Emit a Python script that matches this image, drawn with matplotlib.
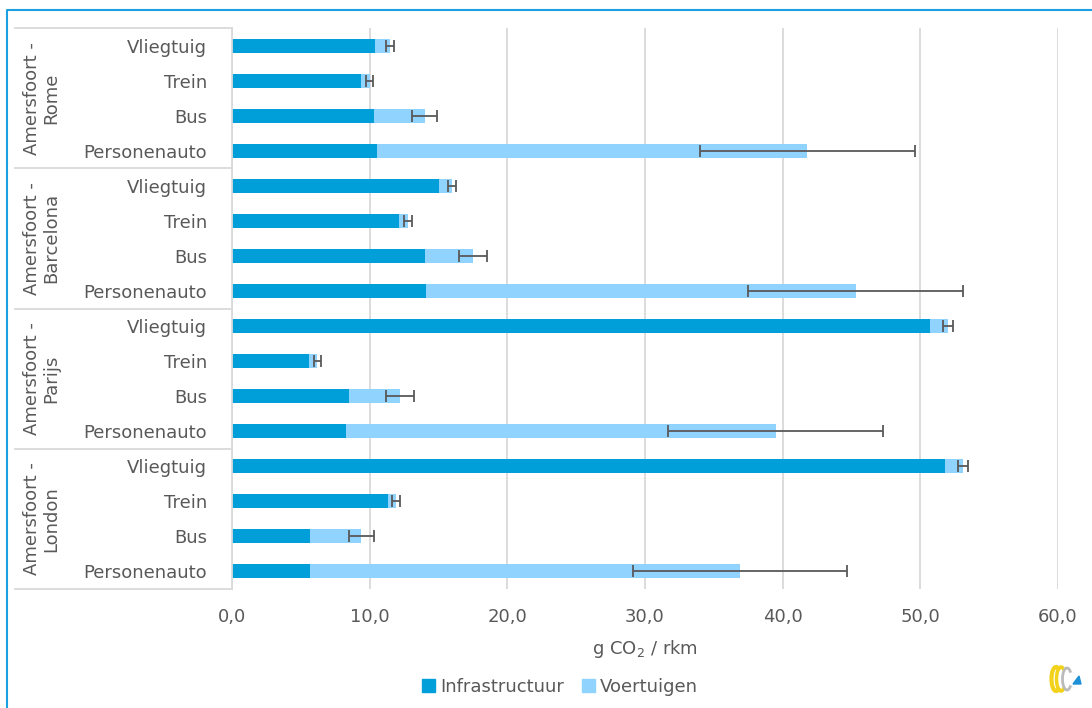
import matplotlib
matplotlib.use('Agg')
import matplotlib.pyplot as plt
from matplotlib.lines import Line2D
from matplotlib.patches import Patch, Arc, Polygon
from matplotlib.transforms import blended_transform_factory
from matplotlib.ticker import FuncFormatter

plt.rcParams['font.family'] = ['DejaVu Sans']

# routes (top to bottom) and modes within each route
routes = ['Amersfoort -\nRome', 'Amersfoort -\nBarcelona', 'Amersfoort -\nParijs', 'Amersfoort -\nLondon']
modes = ['Vliegtuig', 'Trein', 'Bus', 'Personenauto']

# g CO2 / rkm, per route, in mode order
infrastructuur = [
    [10.4, 9.4, 10.3, 10.5],
    [15.0, 12.1, 14.0, 14.1],
    [50.7, 5.6, 8.5, 8.3],
    [51.8, 11.3, 5.7, 5.7],
]
voertuigen = [
    [1.1, 0.6, 3.7, 31.3],
    [1.0, 0.7, 3.5, 31.2],
    [1.3, 0.6, 3.7, 31.2],
    [1.3, 0.6, 3.7, 31.2],
]
fout = [
    [0.3, 0.25, 0.9, 7.8],
    [0.3, 0.27, 1.0, 7.8],
    [0.35, 0.25, 1.0, 7.8],
    [0.37, 0.27, 0.92, 7.8],
]

C_INFRA = '#009FDA'
C_VOERT = '#8FD3FE'
C_TEXT = '#595959'
C_GRID = '#D9D9D9'

W, H = 1092, 708
fig = plt.figure(figsize=(W / 100, H / 100), dpi=100)
ax = fig.add_axes([232 / W, 1 - 589 / H, (1058 - 232) / W, (589 - 28) / H])

labels, infra, voert, err = [], [], [], []
for r in range(len(routes)):
    for m in range(len(modes)):
        labels.append(modes[m])
        infra.append(infrastructuur[r][m])
        voert.append(voertuigen[r][m])
        err.append(fout[r][m])
ypos = list(range(len(labels)))
totals = [a + b for a, b in zip(infra, voert)]

ax.barh(ypos, infra, height=0.4, color=C_INFRA, label='Infrastructuur', zorder=2)
ax.barh(ypos, voert, left=infra, height=0.4, color=C_VOERT, label='Voertuigen', zorder=2)
ax.errorbar(totals, ypos, xerr=err, fmt='none', ecolor=C_TEXT, elinewidth=1.3,
            capsize=4, capthick=1.3, zorder=3)

ax.set_xlim(0, 60)
ax.set_ylim(len(labels) - 0.5, -0.5)
ax.set_xticks(range(0, 61, 10))
ax.xaxis.set_major_formatter(FuncFormatter(lambda v, p: f'{v:.1f}'.replace('.', ',')))
ax.set_yticks(ypos)
ax.set_yticklabels(labels)
ax.tick_params(axis='both', length=0, colors=C_TEXT, labelsize=13)
ax.tick_params(axis='y', pad=18)
ax.tick_params(axis='x', pad=14)
ax.grid(axis='x', color=C_GRID, linewidth=1.3, zorder=0)
ax.set_axisbelow(True)
for s in ['top', 'right', 'bottom']:
    ax.spines[s].set_visible(False)
ax.spines['left'].set_color(C_GRID)
ax.spines['left'].set_linewidth(1.3)

ax.set_xlabel(r'g CO$_\mathregular{2}$ / rkm', fontsize=13, color=C_TEXT, labelpad=8)

# route group labels and separators
tr = blended_transform_factory(fig.transFigure, ax.transData)
for r, name in enumerate(routes):
    top = r * len(modes) - 0.5
    ax.plot([15 / W, 232 / W], [top, top], transform=tr, color=C_GRID, lw=1.3, clip_on=False)
    ax.text(42 / W, top + len(modes) / 2, name, transform=tr, rotation=90, ha='center',
            va='center', fontsize=13, color=C_TEXT, linespacing=1.1)
bottom = len(labels) - 0.5
ax.plot([15 / W, 232 / W], [bottom, bottom], transform=tr, color=C_GRID, lw=1.3, clip_on=False)

handles = [Patch(color=C_INFRA, label='Infrastructuur'), Patch(color=C_VOERT, label='Voertuigen')]
fig.legend(handles=handles, loc='center', bbox_to_anchor=(560 / W, 1 - 687 / H), ncol=2,
           frameon=False, fontsize=13, labelcolor=C_TEXT, handlelength=0.7, handleheight=0.7,
           handletextpad=0.3, columnspacing=1.0)

# figure border (only top and left are visible)
fig.add_artist(Line2D([7 / W, 7 / W, 1], [0, 1 - 10 / H, 1 - 10 / H], transform=fig.transFigure,
                      color='#1BA1E2', linewidth=1.5))

# small logo
lax = fig.add_axes([1046 / W, 1 - 694 / H, 38 / W, 30 / H])
lax.set_xlim(0, 38)
lax.set_ylim(0, 30)
lax.axis('off')
lax.add_patch(Arc((10, 15), 9, 24, theta1=70, theta2=290, color='#F2D21B', lw=3))
lax.add_patch(Arc((15, 15), 9, 24, theta1=70, theta2=290, color='#F2D21B', lw=2.5))
lax.add_patch(Arc((21, 15), 9, 22, theta1=60, theta2=300, color='#BBBBBB', lw=2))
lax.add_patch(Polygon([[27, 10], [35, 10], [33, 18]], color='#1E90D8'))

fig.savefig('out.png', dpi=100)
